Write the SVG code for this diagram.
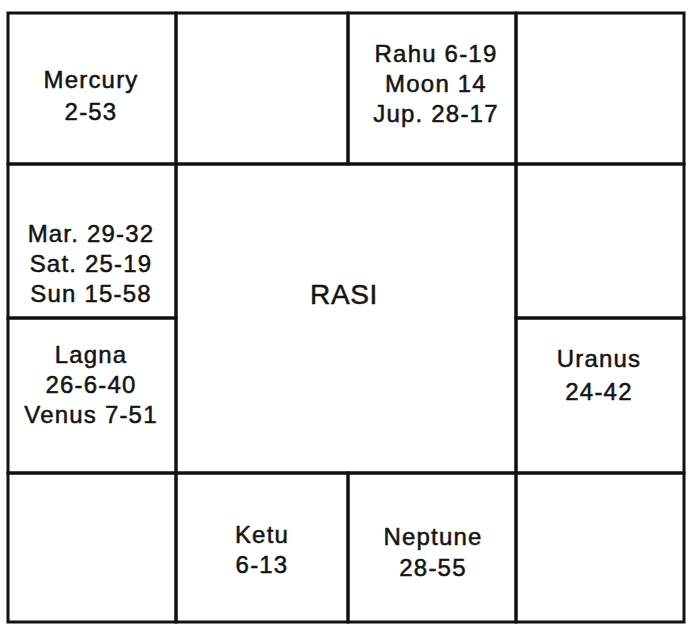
<svg xmlns="http://www.w3.org/2000/svg" width="692" height="632" viewBox="0 0 692 632">
<style>
.cell{fill:none;stroke:#111;stroke-width:3;stroke-linejoin:miter}
.t{font-family:"Liberation Sans",Arial,Helvetica,sans-serif;font-size:24px;letter-spacing:1.2px;fill:#141414;stroke:#141414;stroke-width:0.5;text-anchor:middle}
.big{font-size:28px;letter-spacing:0.6px}
</style>
<rect width="692" height="632" fill="#fff"/>
<g id="cell-mercury">
<rect class="cell" x="8" y="13" width="168" height="151"/>
<text class="t" x="91" y="88">Mercury</text>
<text class="t" x="91" y="120">2-53</text>
</g>
<g id="cell-top-2">
<rect class="cell" x="176" y="13" width="172" height="151"/>
</g>
<g id="cell-rahu">
<rect class="cell" x="348" y="13" width="168" height="151"/>
<text class="t" x="436" y="62">Rahu 6-19</text>
<text class="t" x="436" y="92">Moon 14</text>
<text class="t" x="436" y="122">Jup. 28-17</text>
</g>
<g id="cell-top-4">
<rect class="cell" x="516" y="13" width="168" height="151"/>
</g>
<g id="cell-mars">
<rect class="cell" x="8" y="164" width="168" height="154"/>
<text class="t" x="91" y="242">Mar. 29-32</text>
<text class="t" x="91" y="272">Sat. 25-19</text>
<text class="t" x="91" y="302">Sun 15-58</text>
</g>
<g id="cell-lagna">
<rect class="cell" x="8" y="318" width="168" height="155"/>
<text class="t" x="91" y="363">Lagna</text>
<text class="t" x="91" y="393">26-6-40</text>
<text class="t" x="91" y="423">Venus 7-51</text>
</g>
<g id="cell-rasi">
<rect class="cell" x="176" y="164" width="340" height="309"/>
<text class="t big" x="344" y="304">RASI</text>
</g>
<g id="cell-right-2">
<rect class="cell" x="516" y="164" width="168" height="154"/>
</g>
<g id="cell-uranus">
<rect class="cell" x="516" y="318" width="168" height="155"/>
<text class="t" x="599" y="367">Uranus</text>
<text class="t" x="599" y="400">24-42</text>
</g>
<g id="cell-bottom-1">
<rect class="cell" x="8" y="473" width="168" height="149"/>
</g>
<g id="cell-ketu">
<rect class="cell" x="176" y="473" width="172" height="149"/>
<text class="t" x="262" y="543">Ketu</text>
<text class="t" x="262" y="573">6-13</text>
</g>
<g id="cell-neptune">
<rect class="cell" x="348" y="473" width="168" height="149"/>
<text class="t" x="433" y="545">Neptune</text>
<text class="t" x="433" y="576">28-55</text>
</g>
<g id="cell-bottom-4">
<rect class="cell" x="516" y="473" width="168" height="149"/>
</g>
<g id="connectors"></g>
</svg>
